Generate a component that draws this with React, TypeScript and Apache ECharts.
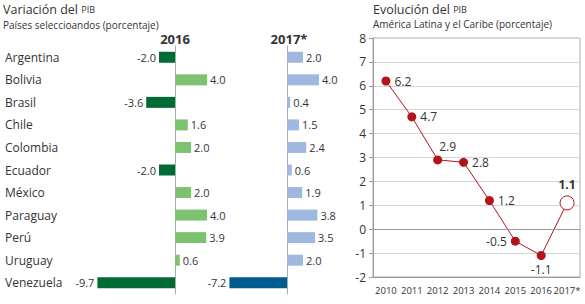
import React, { useEffect, useRef } from "react";
import * as echarts from "echarts";

const countries = ["Argentina", "Bolivia", "Brasil", "Chile", "Colombia", "Ecuador", "México", "Paraguay", "Perú", "Uruguay", "Venezuela"];
const gdp2016 = [-2.0, 4.0, -3.6, 1.6, 2.0, -2.0, 2.0, 4.0, 3.9, 0.6, -9.7];
const gdp2017 = [2.0, 4.0, 0.4, 1.5, 2.4, 0.6, 1.9, 3.8, 3.5, 2.0, -7.2];
const years = ["2010", "2011", "2012", "2013", "2014", "2015", "2016", "2017*"];
const regional = [6.2, 4.7, 2.9, 2.8, 1.2, -0.5, -1.1, 1.1];
const yTicks = { min: -2, max: 8, interval: 1 };

const FONT = "'Open Sans', 'Noto Sans', sans-serif";
const TXT = "#333";

export default function App() {
  const ref = useRef<HTMLDivElement>(null);
  useEffect(() => {
    if (!ref.current) return;
    const chart = echarts.init(ref.current, null, { renderer: "svg" });
    const red = "#b0141c";
    const labelPos: any[] = [
      { position: "right", distance: 4 },
      { position: "right", distance: 4 },
      { position: "top", offset: [10, 2] },
      { position: "right", distance: 4 },
      { position: "right", distance: 4 },
      { position: "left", distance: 4 },
      { position: "bottom", distance: 4 },
      { position: "top", distance: 5, fontWeight: "bold", fontSize: 12 },
    ];
    const barData = (vals: number[], pos: string, neg: string) =>
      vals.map((v) => ({
        value: v,
        itemStyle: { color: v < 0 ? neg : pos },
        label: { position: v < 0 ? "left" : "right" },
      }));
    const barLabel = {
      show: true,
      distance: 3,
      fontSize: 11,
      fontFamily: FONT,
      color: TXT,
      formatter: (p: any) => Number(p.value).toFixed(1),
    };
    chart.setOption({
      animation: false,
      textStyle: { fontFamily: FONT },
      grid: [
        { left: 95, width: 120, top: 46, height: 248 },
        { left: 223, width: 104, top: 46, height: 248 },
        { left: 373, right: 5, top: 38, bottom: 27, show: true, borderColor: "#aaa", borderWidth: 1 },
      ],
      xAxis: [
        { gridIndex: 0, type: "value", min: -10, max: 5, show: false },
        { gridIndex: 1, type: "value", min: -8, max: 5, show: false },
        {
          gridIndex: 2,
          type: "category",
          data: years,
          axisLine: { onZero: false, lineStyle: { color: "#999" } },
          axisTick: { length: 4, lineStyle: { color: "#999" } },
          axisLabel: { interval: 0, fontSize: 9.5, color: TXT, margin: 8, fontFamily: FONT },
        },
      ],
      yAxis: [
        {
          gridIndex: 0,
          type: "category",
          data: countries,
          inverse: true,
          axisLine: { onZero: true, lineStyle: { color: "#aaa" } },
          axisTick: { show: false },
          axisLabel: { show: false },
        },
        {
          gridIndex: 0,
          type: "category",
          data: countries,
          inverse: true,
          position: "left",
          axisLine: { show: false, onZero: false },
          axisTick: { show: false },
          axisLabel: { align: "left", margin: 90, fontSize: 12, color: TXT, fontFamily: FONT },
        },
        {
          gridIndex: 1,
          type: "category",
          data: countries,
          inverse: true,
          axisLine: { onZero: true, lineStyle: { color: "#aaa" } },
          axisTick: { show: false },
          axisLabel: { show: false },
        },
        {
          gridIndex: 2,
          type: "value",
          min: yTicks.min,
          max: yTicks.max,
          interval: yTicks.interval,
          axisLine: { show: true, lineStyle: { color: "#999" } },
          axisTick: { show: true, length: 4, lineStyle: { color: "#999" } },
          splitLine: { lineStyle: { color: "#d6d6d6" } },
          axisLabel: { fontSize: 12, color: TXT, margin: 7, fontFamily: FONT },
        },
      ],
      series: [
        {
          type: "bar",
          xAxisIndex: 0,
          yAxisIndex: 0,
          barWidth: 11,
          data: barData(gdp2016, "#7dc36f", "#006b35"),
          label: barLabel,
        },
        {
          type: "bar",
          xAxisIndex: 1,
          yAxisIndex: 2,
          barWidth: 11,
          data: barData(gdp2017, "#9fb8df", "#005b8f"),
          label: barLabel,
        },
        {
          type: "line",
          xAxisIndex: 2,
          yAxisIndex: 3,
          symbol: "circle",
          symbolSize: 9,
          itemStyle: { color: red },
          lineStyle: { color: red, width: 1 },
          label: { show: true, fontSize: 12, color: TXT, fontFamily: FONT, formatter: (p: any) => Number(p.value).toFixed(1) },
          data: regional.map((v, i) =>
            i === regional.length - 1
              ? {
                  value: v,
                  symbolSize: 14,
                  itemStyle: { color: "#fff", borderColor: red, borderWidth: 1 },
                  label: labelPos[i],
                }
              : { value: v, label: labelPos[i] }
          ),
          markLine: {
            silent: true,
            symbol: "none",
            label: { show: false },
            lineStyle: { color: "#999", type: "solid", width: 1 },
            data: [{ yAxis: 0 }],
          },
        },
      ],
      graphic: [
        {
          type: "text",
          left: 3,
          top: 3,
          style: { text: "Variación del {s|PIB}", fontSize: 12.5, fontFamily: FONT, fill: TXT, rich: { s: { fontSize: 9, fontFamily: FONT, fill: TXT } } },
        },
        { type: "text", left: 3, top: 20, style: { text: "Países seleccioandos (porcentaje)", fontSize: 10, fontFamily: FONT, fill: TXT } },
        {
          type: "text",
          left: 373,
          top: 3,
          style: { text: "Evolución del {s|PIB}", fontSize: 12.5, fontFamily: FONT, fill: TXT, rich: { s: { fontSize: 9, fontFamily: FONT, fill: TXT } } },
        },
        { type: "text", left: 373, top: 19, style: { text: "América Latina y el Caribe (porcentaje)", fontSize: 10, fontFamily: FONT, fill: TXT } },
        { type: "text", x: 175, y: 32, style: { text: "2016", fontSize: 13, fontWeight: "bold", fontFamily: FONT, fill: TXT, align: "center" } },
        { type: "text", x: 289, y: 32, style: { text: "2017*", fontSize: 13, fontWeight: "bold", fontFamily: FONT, fill: TXT, align: "center" } },
      ],
    });
    return () => chart.dispose();
  }, []);
  return <div ref={ref} style={{ position: "absolute", left: 0, top: 0, width: 585, height: 304 }} />;
}
